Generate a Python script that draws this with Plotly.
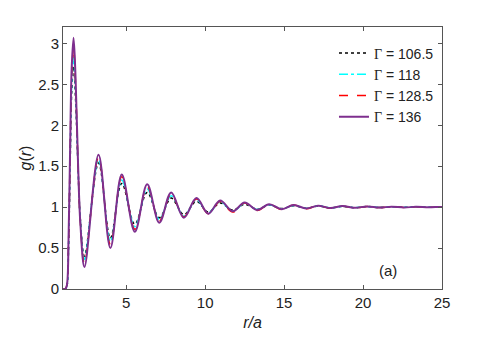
import plotly.graph_objects as go

# r/a sample positions (rise, first peak, then successive peaks / troughs)
r_vals = [1.0, 1.15, 1.25, 1.35, 1.45, 1.55, 1.67, 1.8, 1.95, 2.1, 2.36,
          3.25, 4.0, 4.72, 5.55, 6.33, 7.1, 7.85, 8.65, 9.45, 10.2,
          10.95, 11.75, 12.5, 13.3, 14.05, 14.85, 15.6, 16.4, 17.15, 17.95,
          18.7, 19.5, 20.25, 21.05, 21.8, 22.6, 23.35, 24.15, 24.9, 25.0]

g_1065 = [0, 0, 0.04, 0.5, 1.5, 2.4, 2.72, 2.3, 1.5, 0.85, 0.40,
          1.54, 0.62, 1.29, 0.79, 1.18, 0.87, 1.11, 0.91, 1.07, 0.94,
          1.05, 0.965, 1.035, 0.975, 1.025, 0.982, 1.018, 0.987, 1.013, 0.99,
          1.01, 0.993, 1.007, 0.995, 1.005, 0.997, 1.003, 0.998, 1.001, 1.0]

g_118 = [0, 0, 0.04, 0.53, 1.57, 2.5, 2.83, 2.4, 1.52, 0.83, 0.36,
         1.58, 0.58, 1.33, 0.76, 1.22, 0.85, 1.14, 0.89, 1.09, 0.93,
         1.065, 0.95, 1.045, 0.97, 1.03, 0.98, 1.02, 0.985, 1.015, 0.99,
         1.01, 0.994, 1.006, 0.996, 1.004, 0.997, 1.003, 0.998, 1.002, 1.0]

g_1285 = [0, 0, 0.05, 0.56, 1.63, 2.6, 2.95, 2.48, 1.54, 0.81, 0.31,
          1.61, 0.54, 1.37, 0.73, 1.25, 0.83, 1.16, 0.88, 1.10, 0.92,
          1.07, 0.94, 1.05, 0.96, 1.035, 0.97, 1.025, 0.98, 1.017, 0.986,
          1.012, 0.99, 1.008, 0.994, 1.005, 0.996, 1.004, 0.997, 1.002, 1.0]

g_136 = [0, 0, 0.05, 0.6, 1.7, 2.7, 3.07, 2.55, 1.55, 0.8, 0.27,
         1.64, 0.50, 1.40, 0.70, 1.28, 0.81, 1.18, 0.87, 1.11, 0.92,
         1.08, 0.95, 1.055, 0.965, 1.035, 0.975, 1.025, 0.983, 1.018, 0.988,
         1.013, 0.991, 1.009, 0.994, 1.006, 0.996, 1.004, 0.998, 1.002, 1.0]

gamma_labels = ["106.5", "118", "128.5", "136"]

GAMMA = "<span style='font-family:Liberation Serif, Times New Roman, serif'>Γ</span>"

series = [
    (g_1065, "black",   "dot",     1.5),
    (g_118,  "#00FFFF", "dashdot", 1.5),
    (g_1285, "#FF0000", "dash",    1.5),
    (g_136,  "#7E2F8E", "solid",   2),
]

fig = go.Figure()
for lab, (g, color, dash, w) in zip(gamma_labels, series):
    fig.add_trace(go.Scatter(
        x=r_vals, y=g, mode="lines", name=f"{GAMMA} = {lab}",
        line=dict(color=color, dash=dash, width=w, shape="spline", smoothing=1),
    ))

axis_common = dict(
    showline=True, linecolor="#555", linewidth=1, mirror="ticks",
    ticks="inside", ticklen=4, tickcolor="#555",
    showgrid=False, zeroline=False,
    tickfont=dict(size=15, color="#222"),
)
fig.update_xaxes(range=[1, 25], tickvals=[5, 10, 15, 20, 25],
                 title=dict(text="<i>r/a</i>", font=dict(size=16, color="#222"), standoff=6),
                 **axis_common)
fig.update_yaxes(range=[0, 3.2], tickvals=[0, 0.5, 1, 1.5, 2, 2.5, 3],
                 ticktext=["0", "0.5", "1", "1.5", "2", "2.5", "3"],
                 title=dict(text="<i>g</i>(<i>r</i>)", font=dict(size=16, color="#222"), standoff=2),
                 **axis_common)

fig.add_annotation(x=21.6, y=0.23, text="(a)", showarrow=False,
                   font=dict(size=15, color="#222"))

# page body adds ~8px offset, so figure is sized a bit smaller
fig.update_layout(
    width=483, height=346,
    margin=dict(l=55, r=49, t=19, b=65),
    plot_bgcolor="white", paper_bgcolor="white",
    font=dict(family="Liberation Sans, Arial, sans-serif", color="#222"),
    legend=dict(x=0.715, y=0.96, xanchor="left", yanchor="top",
                bgcolor="rgba(255,255,255,0)", font=dict(size=14),
                itemwidth=30, tracegroupgap=0),
)

fig.write_html("out.html")
